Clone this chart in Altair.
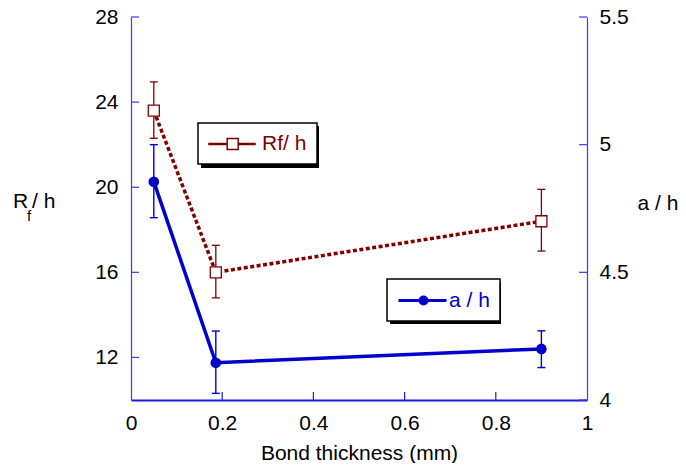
import altair as alt
import pandas as pd

# ---- data ----
thickness = [0.05, 0.186, 0.9]
rf_h = [23.6, 16.0, 18.4]
rf_lo = [22.3, 14.8, 17.0]
rf_hi = [24.95, 17.27, 19.9]
a_h = [4.855, 4.146, 4.2]
a_lo = [4.714, 4.026, 4.127]
a_hi = [5.0, 4.27, 4.271]

x_ticks = [0, 0.2, 0.4, 0.6, 0.8, 1]
x_inner_ticks = [0.2, 0.4, 0.6, 0.8]
left_ticks = [12, 16, 20, 24, 28]
right_ticks = [4, 4.5, 5, 5.5]

series_rf = "Rf/ h"
series_ah = "a / h"
x_title = "Bond thickness (mm)"
left_title = ["R", "f", "/ h"]
right_title = "a / h"

RED = "#800000"
BLUE = "#0000cc"
AXIS_BLUE = "#3a3aff"
FONT = "Liberation Sans"
W, H = 456, 383

df = pd.DataFrame({
    "x": thickness, "rf": rf_h, "rf_lo": rf_lo, "rf_hi": rf_hi,
    "ah": a_h, "ah_lo": a_lo, "ah_hi": a_hi,
    "s_rf": series_rf, "s_ah": series_ah,
})

x_axis = alt.Axis(values=x_ticks, format="~g", title=x_title, grid=False, ticks=False, tickSize=0,
                  domainColor="#1a1add", domainWidth=2, labelFont=FONT, labelFontSize=21,
                  labelColor="black", labelPadding=12, labelFlush=False,
                  titleFont=FONT, titleFontSize=21, titleFontWeight="normal", titleColor="black",
                  titleY=59, titleBaseline="alphabetic")
x_scale = alt.Scale(domain=[0, 1], nice=False, zero=False)

left_axis = alt.Axis(values=left_ticks, title="", grid=False, ticks=False, tickSize=0,
                     domainColor=AXIS_BLUE, domainWidth=1.2, labelFont=FONT, labelFontSize=21,
                     labelColor="black", labelPadding=13, labelFlush=False)
left_scale = alt.Scale(domain=[10, 28], nice=False, zero=False)

right_axis = alt.Axis(orient="right", values=right_ticks, format="~g", title=right_title, grid=False,
                      ticks=False, tickSize=0, domainColor=AXIS_BLUE, domainWidth=1.2,
                      labelFont=FONT, labelFontSize=21, labelColor="black", labelPadding=12,
                      labelFlush=False, titleFont=FONT, titleFontSize=21, titleFontWeight="normal",
                      titleColor="black", titleAngle=0, titleAlign="left", titleBaseline="alphabetic",
                      titleX=50, titleY=192)
right_scale = alt.Scale(domain=[4, 5.5], nice=False, zero=False)


def X(field="x"):
    return alt.X(f"{field}:Q", scale=x_scale, axis=x_axis)


def YL(field):
    return alt.Y(f"{field}:Q", scale=left_scale, axis=left_axis)


def YR(field):
    return alt.Y(f"{field}:Q", scale=right_scale, axis=right_axis)


RF_PATH = ("M-1,-0.06H0.82V0.06H-1Z M0.82,-0.55H1.92V0.55H0.82Z "
           "M1.92,-0.06H3.6V0.06H1.92Z")
AH_PATH = "M-1,0H3.8 M1.15,0A0.35,0.35,0,1,1,1.85,0A0.35,0.35,0,1,1,1.15,0Z"

RF_LX, RF_LY = 67, 106
AH_LX, AH_LY = 256, 262

rf_legend = alt.Legend(title=None, orient="none", legendX=RF_LX, legendY=RF_LY, padding=10,
                       strokeColor="black", fillColor="white", symbolType=RF_PATH,
                       symbolSize=400, labelColor=RED, labelFont=FONT, labelFontSize=21,
                       labelOffset=32)
ah_legend = alt.Legend(title=None, orient="none", legendX=AH_LX, legendY=AH_LY, padding=10,
                       strokeColor="black", fillColor="white", symbolType=AH_PATH,
                       symbolSize=400, symbolStrokeColor=BLUE, symbolStrokeWidth=3,
                       labelColor=BLUE, labelFont=FONT, labelFontSize=21, labelOffset=29)

base = alt.Chart(df)

# ---- Rf/h series (left axis) ----
rf_err = base.mark_rule(color=RED, strokeWidth=1.3).encode(x=X(), y=YL("rf_lo"), y2="rf_hi:Q")
rf_cap_lo = base.mark_tick(color=RED, orient="horizontal", size=8, thickness=1.3, opacity=1).encode(x=X(), y=YL("rf_lo"))
rf_cap_hi = base.mark_tick(color=RED, orient="horizontal", size=8, thickness=1.3, opacity=1).encode(x=X(), y=YL("rf_hi"))
rf_line = base.mark_line(color=RED, strokeWidth=3.5, strokeDash=[4, 2.5]).encode(x=X(), y=YL("rf"))
rf_pts = base.mark_point(shape="square", size=121, fill="white", filled=False, strokeWidth=1.3,
                         opacity=1).encode(
    x=X(), y=YL("rf"),
    color=alt.Color("s_rf:N", scale=alt.Scale(domain=[series_rf], range=[RED]), legend=rf_legend))
left_tick_rules = alt.Chart(pd.DataFrame({"v": left_ticks})).mark_rule(
    color=AXIS_BLUE, strokeWidth=1.2).encode(y=YL("v"), x=alt.value(0), x2=alt.value(8))
bottom_tick_rules = alt.Chart(pd.DataFrame({"x": x_inner_ticks})).mark_rule(
    color="#1a1add", strokeWidth=1.2).encode(x=X(), y=alt.value(H), y2=alt.value(H - 8))

rf_layer = alt.layer(left_tick_rules, bottom_tick_rules, rf_err, rf_cap_lo, rf_cap_hi, rf_line, rf_pts)

# ---- a/h series (right axis) ----
ah_err = base.mark_rule(color=BLUE, strokeWidth=1.4).encode(x=X(), y=YR("ah_lo"), y2="ah_hi:Q")
ah_cap_lo = base.mark_tick(color=BLUE, orient="horizontal", size=8, thickness=1.4, opacity=1).encode(x=X(), y=YR("ah_lo"))
ah_cap_hi = base.mark_tick(color=BLUE, orient="horizontal", size=8, thickness=1.4, opacity=1).encode(x=X(), y=YR("ah_hi"))
ah_line = base.mark_line(color=BLUE, strokeWidth=3.5).encode(x=X(), y=YR("ah"))
ah_pts = base.mark_point(shape="circle", size=113, filled=True, opacity=1).encode(
    x=X(), y=YR("ah"),
    color=alt.Color("s_ah:N", scale=alt.Scale(domain=[series_ah], range=[BLUE]), legend=ah_legend))
right_tick_rules = alt.Chart(pd.DataFrame({"v": right_ticks})).mark_rule(
    color=AXIS_BLUE, strokeWidth=1.2).encode(y=YR("v"), x=alt.value(W - 8), x2=alt.value(W))

ah_layer = alt.layer(right_tick_rules, ah_err, ah_cap_lo, ah_cap_hi, ah_line, ah_pts)

# ---- decorations: legend shadows, left axis title with subscript ----
one = alt.Data(values=[{"k": 1}])


def shadow(x1, x2, y1, y2):
    return alt.Chart(one).mark_rect(color="black").encode(
        x=alt.value(x1), x2=alt.value(x2), y=alt.value(y1), y2=alt.value(y2))


def label(text, x, y, size):
    return alt.Chart(alt.Data(values=[{"t": text}])).mark_text(
        align="left", baseline="alphabetic", font=FONT, fontSize=size, color="black").encode(
        x=alt.value(x), y=alt.value(y), text="t:N")


decor = [
    shadow(RF_LX + 3, RF_LX + 121, RF_LY + 3, RF_LY + 45),
    shadow(AH_LX + 3, AH_LX + 114, AH_LY + 3, AH_LY + 45),
    label(left_title[0], -118, 191, 21),
    label(left_title[1], -104, 204, 15),
    label(left_title[2], -99, 191, 21),
]

chart = alt.layer(*decor, rf_layer, ah_layer).resolve_scale(
    y="independent", color="independent"
).properties(
    width=W, height=H,
    padding={"left": 123, "top": 9, "right": 91, "bottom": 63},
    autosize=alt.AutoSizeParams(type="none"),
).configure_view(stroke=None).configure_legend(strokeWidth=1.5)

chart.save("out.html", embed_options={"renderer": "svg", "actions": False})
